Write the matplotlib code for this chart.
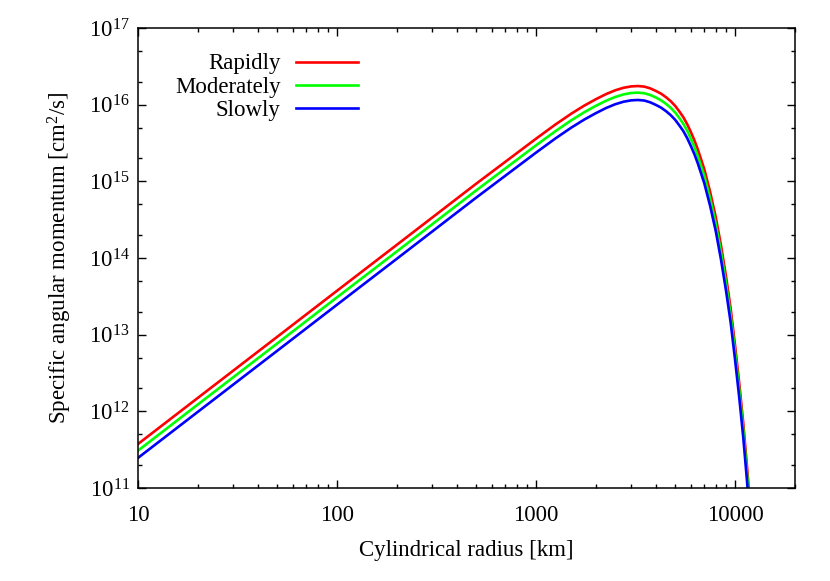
import matplotlib
matplotlib.use('Agg')
import matplotlib.pyplot as plt
from matplotlib.ticker import LogLocator, FixedLocator, NullFormatter, LogFormatterMathtext

plt.rcParams['font.family'] = ['Liberation Serif', 'DejaVu Serif']
plt.rcParams['mathtext.fontset'] = 'custom'
plt.rcParams['mathtext.rm'] = 'Liberation Serif'
plt.rcParams['mathtext.it'] = 'Liberation Serif:italic'
plt.rcParams['mathtext.default'] = 'regular'

#%% Data
radius_km = [10, 20, 50, 100, 200, 500, 1000, 1250, 1500, 1750, 2000, 2250, 2500,
             2750, 3000, 3250, 3500, 3750, 4000, 4250, 4500, 4750, 5000, 5250,
             5500, 5750, 6000, 6250, 6500, 7000, 7500, 8000, 8500, 9000, 9500,
             10000, 10500, 11000, 11500, 12000]

j_rapid = [3.75e11, 1.50e12, 9.35e12, 3.74e13, 1.49e14, 9.3e14, 3.6e15, 5.5e15,
           7.6e15, 9.75e15, 1.18e16, 1.375e16, 1.54e16, 1.66e16, 1.73e16, 1.75e16,
           1.72e16, 1.63e16, 1.51e16, 1.39e16, 1.25e16, 1.11e16, 9.65e15, 8.15e15,
           6.85e15, 5.55e15, 4.38e15, 3.42e15, 2.6e15, 1.45e15, 7.2e14, 3.4e14,
           1.45e14, 5.8e13, 2.2e13, 7.2e12, 2.3e12, 6.9e11, 1.8e11, 4.5e10]

j_moderate = [3.07e11, 1.23e12, 7.66e12, 3.07e13, 1.22e14, 7.6e14, 2.95e15, 4.5e15,
              6.23e15, 7.99e15, 9.67e15, 1.127e16, 1.26e16, 1.36e16, 1.42e16, 1.435e16,
              1.41e16, 1.336e16, 1.24e16, 1.139e16, 1.025e16, 9.1e15, 7.91e15, 6.68e15,
              5.61e15, 4.55e15, 3.59e15, 2.8e15, 2.13e15, 1.19e15, 5.9e14, 2.79e14,
              1.19e14, 4.75e13, 1.8e13, 5.9e12, 1.89e12, 5.65e11, 1.48e11, 3.7e10]

j_slow = [2.47e11, 9.87e11, 6.15e12, 2.46e13, 9.8e13, 6.12e14, 2.37e15, 3.62e15,
          5.0e15, 6.41e15, 7.76e15, 9.05e15, 1.013e16, 1.092e16, 1.138e16, 1.151e16,
          1.132e16, 1.072e16, 9.93e15, 9.14e15, 8.22e15, 7.3e15, 6.35e15, 5.36e15,
          4.51e15, 3.65e15, 2.88e15, 2.25e15, 1.71e15, 9.5e14, 4.74e14, 2.24e14,
          9.5e13, 3.8e13, 1.45e13, 4.7e12, 1.5e12, 4.5e11, 1.18e11, 2.96e10]

labels = ['Rapidly', 'Moderately', 'Slowly']
colors = ['#ff0000', '#00ff00', '#0000ff']
x_ticks = [10, 100, 1000, 10000]
x_ticklabels = ['10', '100', '1000', '10000']

#%% Plot
fig = plt.figure(figsize=(8.3, 5.81), dpi=100)
ax = fig.add_axes([0.1663, 0.1601, 0.7915, 0.7917])

series = [j_rapid, j_moderate, j_slow]
for k in range(len(series)):
    ax.plot(radius_km, series[k], color=colors[k], lw=1.9, solid_joinstyle='round')

ax.set_xscale('log')
ax.set_yscale('log')
ax.set_xlim(10, 20000)
ax.set_ylim(1e11, 1e17)

ax.xaxis.set_major_locator(FixedLocator(x_ticks))
ax.set_xticklabels(x_ticklabels)
ax.xaxis.set_minor_locator(LogLocator(base=10, subs=range(2, 10)))
ax.xaxis.set_minor_formatter(NullFormatter())
ax.yaxis.set_major_locator(LogLocator(base=10, numticks=10))
ax.yaxis.set_major_formatter(LogFormatterMathtext())
ax.yaxis.set_minor_locator(LogLocator(base=10, subs=[2, 5], numticks=20))
ax.yaxis.set_minor_formatter(NullFormatter())

ax.tick_params(which='both', direction='in', top=True, right=True, width=1.0, labelsize=16.5)
ax.tick_params(which='major', length=6)
ax.tick_params(which='minor', length=3)
ax.tick_params(axis='x', which='major', pad=12)
ax.tick_params(axis='y', which='major', pad=6)
for s in ax.spines.values():
    s.set_linewidth(1.1)

ax.set_xlabel('Cylindrical radius [km]', fontsize=16.5, labelpad=10.5)
ax.set_ylabel('Specific angular momentum [cm$^2$/s]', fontsize=16.5, labelpad=11)

# gnuplot-style key: right-aligned text, sample line to its right
key_rows = [0.9267, 0.876, 0.8261]
for k in range(len(labels)):
    ax.text(0.217, key_rows[k] - 0.0165, labels[k], transform=ax.transAxes,
            ha='right', va='baseline', fontsize=16.5)
    ax.plot([0.240, 0.335], [key_rows[k], key_rows[k]], transform=ax.transAxes,
            color=colors[k], lw=1.9)

plt.savefig('out.png', dpi=100)
